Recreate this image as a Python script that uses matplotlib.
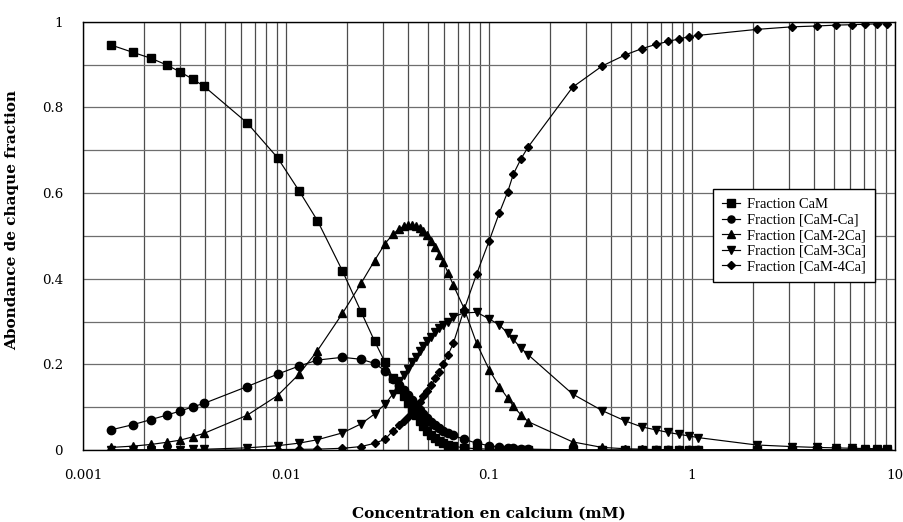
import matplotlib
matplotlib.use("Agg")
import matplotlib.pyplot as plt
from matplotlib.ticker import FixedLocator, LogLocator, NullFormatter

plt.rcParams['font.family'] = ['DejaVu Serif']

# Free calcium concentration (mM)
calcium = [0.001374, 0.001757, 0.002163, 0.002584, 0.003015, 0.003483, 0.003954,
           0.006426, 0.009082, 0.01159, 0.01429, 0.01898, 0.02342, 0.02729, 0.03075,
           0.03366, 0.03606, 0.03796, 0.03972, 0.04158, 0.04348, 0.04550, 0.04757,
           0.04977, 0.05207, 0.05447, 0.05699, 0.05962, 0.06281,
           0.0667, 0.0753, 0.0869, 0.1003, 0.1125, 0.1237, 0.1318, 0.1438, 0.1562,
           0.258, 0.361, 0.468, 0.565, 0.665, 0.764, 0.865, 0.970, 1.07,
           2.08, 3.10, 4.11, 5.12, 6.12, 7.12, 8.18, 9.16]

frac_cam = [0.9456, 0.9286, 0.9146, 0.899, 0.8826, 0.8655, 0.849,
            0.764, 0.6825, 0.6054, 0.5354, 0.418, 0.323, 0.2545, 0.205,
            0.168, 0.143, 0.125, 0.110, 0.095, 0.081, 0.068, 0.056,
            0.045, 0.036, 0.028, 0.022, 0.017, 0.012,
            0.009, 0.005, 0.003, 0.002, 0.001, 0.001, 0.0008, 0.0006, 0.0005,
            0.0001, 0.0, 0.0, 0.0, 0.0, 0.0, 0.0, 0.0, 0.0,
            0.0, 0.0, 0.0, 0.0, 0.0, 0.0, 0.0, 0.0]

frac_cam_1ca = [0.047, 0.059, 0.071, 0.0815, 0.091, 0.101, 0.109,
                0.148, 0.177, 0.196, 0.210, 0.2164, 0.2118, 0.2024, 0.185,
                0.165, 0.152, 0.140, 0.128, 0.116, 0.105, 0.094, 0.084,
                0.074, 0.066, 0.058, 0.051, 0.045, 0.040,
                0.034, 0.025, 0.016, 0.010, 0.007, 0.005, 0.004, 0.003, 0.002,
                0.0005, 0.0002, 0.0, 0.0, 0.0, 0.0, 0.0, 0.0, 0.0,
                0.0, 0.0, 0.0, 0.0, 0.0, 0.0, 0.0, 0.0]

frac_cam_2ca = [0.006, 0.009, 0.013, 0.018, 0.023, 0.031, 0.039,
                0.081, 0.127, 0.177, 0.232, 0.319, 0.389, 0.442, 0.482,
                0.504, 0.516, 0.522, 0.525, 0.525, 0.523, 0.518, 0.511,
                0.501, 0.488, 0.473, 0.456, 0.438, 0.414,
                0.385, 0.331, 0.249, 0.187, 0.148, 0.121, 0.102, 0.082, 0.066,
                0.019, 0.006, 0.003, 0.002, 0.001, 0.001, 0.0, 0.0, 0.0,
                0.0, 0.0, 0.0, 0.0, 0.0, 0.0, 0.0, 0.0]

frac_cam_3ca = [0.0001, 0.0002, 0.0004, 0.0006, 0.0009, 0.0013, 0.0018,
                0.005, 0.010, 0.016, 0.024, 0.040, 0.061, 0.084, 0.107,
                0.131, 0.160, 0.175, 0.190, 0.205, 0.218, 0.231, 0.243,
                0.254, 0.265, 0.275, 0.284, 0.292, 0.300,
                0.311, 0.320, 0.3215, 0.306, 0.292, 0.2725, 0.258, 0.2375, 0.222,
                0.1307, 0.092, 0.068, 0.054, 0.047, 0.041, 0.0365, 0.0327, 0.029,
                0.0117, 0.008, 0.006, 0.005, 0.004, 0.0035, 0.003, 0.003]

frac_cam_4ca = [0.0, 0.0, 0.0, 0.0, 0.0, 0.0, 0.0,
                0.0005, 0.001, 0.0015, 0.002, 0.004, 0.008, 0.0156, 0.025,
                0.045, 0.058, 0.068, 0.078, 0.089, 0.100, 0.112, 0.125,
                0.138, 0.152, 0.167, 0.183, 0.200, 0.222,
                0.249, 0.327, 0.411, 0.489, 0.554, 0.603, 0.644, 0.680, 0.708,
                0.847, 0.8966, 0.9223, 0.937, 0.947, 0.954, 0.960, 0.965, 0.968,
                0.982, 0.988, 0.990, 0.992, 0.993, 0.994, 0.995, 0.995]

series = [
    ("Fraction CaM", frac_cam, "s", 6.0),
    ("Fraction [CaM-Ca]", frac_cam_1ca, "o", 6.0),
    ("Fraction [CaM-2Ca]", frac_cam_2ca, "^", 6.0),
    ("Fraction [CaM-3Ca]", frac_cam_3ca, "v", 6.0),
    ("Fraction [CaM-4Ca]", frac_cam_4ca, "D", 4.3),
]

fig = plt.figure(figsize=(9.04, 5.22), dpi=100)
ax = fig.add_axes([83 / 904, 1 - 450 / 522, 812 / 904, 428.3 / 522])

for label, values, marker, ms in series:
    ax.plot(calcium, values, color="black", linewidth=0.85, marker=marker,
            markersize=ms, markerfacecolor="black", markeredgecolor="black",
            label=label, zorder=3)

ax.set_xscale("log")
ax.set_xlim(0.001, 10)
ax.set_ylim(0, 1)

ax.xaxis.set_minor_locator(LogLocator(base=10, subs=range(2, 10), numticks=50))
ax.xaxis.set_minor_formatter(NullFormatter())
ax.set_xticks([0.001, 0.01, 0.1, 1, 10])
ax.set_xticklabels(["0.001", "0.01", "0.1", "1", "10"])
ax.set_yticks([0, 0.2, 0.4, 0.6, 0.8, 1.0])
ax.set_yticklabels(["0", "0.2", "0.4", "0.6", "0.8", "1"])
ax.yaxis.set_minor_locator(FixedLocator([0.1, 0.3, 0.5, 0.7, 0.9]))

ax.grid(True, which="both", axis="x", color="#4d4d4d", linewidth=0.9)
ax.grid(True, which="both", axis="y", color="#6e6e6e", linewidth=0.9)
ax.set_axisbelow(True)

ax.tick_params(axis="both", which="both", length=0, labelsize=9.6)
ax.tick_params(axis="x", pad=14)
ax.tick_params(axis="y", pad=14.4)

for spine in ax.spines.values():
    spine.set_color("black")
    spine.set_linewidth(1.0)

ax.set_xlabel("Concentration en calcium (mM)", fontsize=11, fontweight="bold",
              va="center")
ax.xaxis.set_label_coords(0.5, (450 - 514) / 428.3)
ax.set_ylabel("Abondance de chaque fraction", fontsize=11, fontweight="bold",
              va="center")
ax.yaxis.set_label_coords((12 - 83) / 812, 0.537)

leg = ax.legend(loc="upper left", bbox_to_anchor=(0.7759, 0.6094),
                prop={"family": "Liberation Serif", "size": 10.5},
                frameon=True, fancybox=False, edgecolor="black", framealpha=1,
                handlelength=1.2, handletextpad=0.5, labelspacing=0.16,
                borderpad=0.62, borderaxespad=0, markerscale=0.85)
leg.get_frame().set_linewidth(1.0)

fig.savefig("out.png", dpi=100)
